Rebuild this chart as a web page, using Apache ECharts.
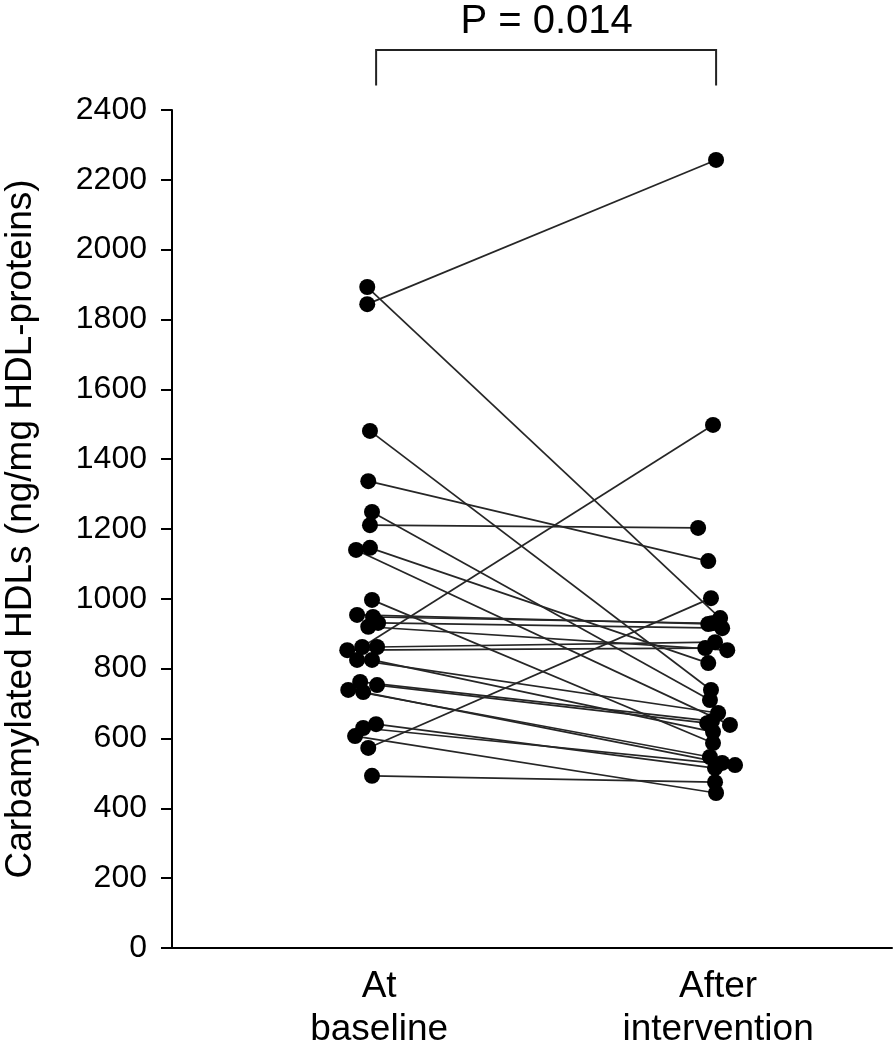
<!DOCTYPE html>
<html>
<head>
<meta charset="utf-8">
<script src="https://cdn.jsdelivr.net/npm/echarts@6/dist/echarts.min.js"></script>
<style>
html,body{margin:0;padding:0;background:#fff;}
#chart{width:896px;height:1047px;}
</style>
</head>
<body>
<div id="chart"></div>
<script>
// ---- data ----
const categories = ['At\nbaseline', 'After\nintervention'];
const pValueText = 'P = 0.014';
const yAxisTitle = 'Carbamylated HDLs (ng/mg HDL-proteins)';
const yTicks = [0, 200, 400, 600, 800, 1000, 1200, 1400, 1600, 1800, 2000, 2200, 2400];
// paired values per subject (ng/mg HDL-proteins)
const baselineValues = [1893, 1844, 1481, 1337, 1249, 1211, 1146, 1140, 997, 954, 948, 931, 920, 862, 862, 853, 825, 825, 762, 753, 739, 733, 641, 630, 607, 573, 493];
const afterValues    = [945, 2257, 739, 1108, 710, 1203, 816, 639, 587, 928, 930, 916, 853, 1498, 876, 859, 673, 619, 650, 644, 547, 530, 515, 524, 444, 1002, 475];
// horizontal jitter of the dots around each category (category units)
const baselineJitter = [-0.035, -0.035, -0.027, -0.032, -0.021, -0.027, -0.027, -0.068, -0.021, -0.065, -0.018, -0.003, -0.032, -0.050, -0.006, -0.094, -0.065, -0.021, -0.056, -0.006, -0.091, -0.047, -0.009, -0.047, -0.071, -0.032, -0.021];
const afterJitter    = [0.006, -0.006, -0.021, -0.029, -0.024, -0.059, -0.029, 0.035, -0.015, -0.029, -0.018, 0.012, 0.027, -0.015, -0.009, -0.038, 0, -0.015, -0.018, -0.032, -0.024, 0.012, -0.009, 0.050, -0.006, -0.021, -0.009];

// ---- chart ----
const FONT = '"Liberation Sans", Arial, Helvetica, sans-serif';
const chart = echarts.init(document.getElementById('chart'), null, {renderer: 'canvas'});

const lineSeries = baselineValues.map((b, i) => ({
  type: 'line',
  data: [[1 + baselineJitter[i], b], [2 + afterJitter[i], afterValues[i]]],
  showSymbol: false,
  symbol: 'none',
  lineStyle: {color: '#262626', width: 1.7, opacity: 1},
  z: 2,
  silent: true,
  animation: false
}));
const points = [];
baselineValues.forEach((b, i) => {
  points.push([1 + baselineJitter[i], b]);
  points.push([2 + afterJitter[i], afterValues[i]]);
});

const option = {
  backgroundColor: '#ffffff',
  animation: false,
  grid: {left: 172, right: 4, top: 110, bottom: 99, containLabel: false, outerBoundsMode: 'none'},
  xAxis: {
    type: 'value',
    min: 0.389,
    max: 2.513,
    splitLine: {show: false},
    axisLine: {show: true, onZero: false, lineStyle: {color: '#000', width: 2}},
    axisTick: {show: false},
    axisLabel: {
      show: true,
      customValues: [1, 2],
      formatter: v => (Math.round(v) === 1 ? categories[0] : categories[1]),
      color: '#000',
      fontFamily: FONT,
      fontSize: 37,
      lineHeight: 43,
      margin: 17
    }
  },
  yAxis: {
    type: 'value',
    min: yTicks[0],
    max: yTicks[yTicks.length - 1],
    interval: 200,
    splitLine: {show: false},
    axisLine: {show: true, lineStyle: {color: '#000', width: 2}},
    axisTick: {show: true, length: 11, lineStyle: {color: '#000', width: 2}},
    axisLabel: {color: '#000', fontFamily: FONT, fontSize: 32, margin: 25, formatter: v => String(v)},
    name: yAxisTitle,
    nameLocation: 'middle',
    nameGap: 133,
    nameRotate: 90,
    nameTextStyle: {color: '#000', fontFamily: FONT, fontSize: 37}
  },
  series: lineSeries.concat([{
    type: 'scatter',
    data: points,
    symbol: 'circle',
    symbolSize: 16,
    itemStyle: {color: '#000', opacity: 1},
    z: 5,
    silent: true
  }])
};
chart.setOption(option);

// significance bracket + p-value, positioned through the axes' scales
const leftTop = chart.convertToPixel({gridIndex: 0}, [1, 2572]);
const rightTop = chart.convertToPixel({gridIndex: 0}, [2, 2572]);
const leftLeg = chart.convertToPixel({gridIndex: 0}, [1, 2470]);
const rightLeg = chart.convertToPixel({gridIndex: 0}, [2, 2470]);
const midX = chart.convertToPixel({gridIndex: 0}, [1.5, 0])[0];
chart.setOption({
  graphic: [
    {
      type: 'polyline',
      shape: {points: [[leftLeg[0] - 3, leftLeg[1]], [leftTop[0] - 3, leftTop[1]], [rightTop[0] - 2, rightTop[1]], [rightLeg[0] - 2, rightLeg[1]]]},
      style: {stroke: '#222', lineWidth: 2, fill: null},
      silent: true
    },
    {
      type: 'text',
      x: midX - 2,
      y: 2,
      style: {text: pValueText, fill: '#000', font: '40px ' + FONT, textAlign: 'center', textVerticalAlign: 'top'},
      silent: true
    }
  ]
});
</script>
</body>
</html>
